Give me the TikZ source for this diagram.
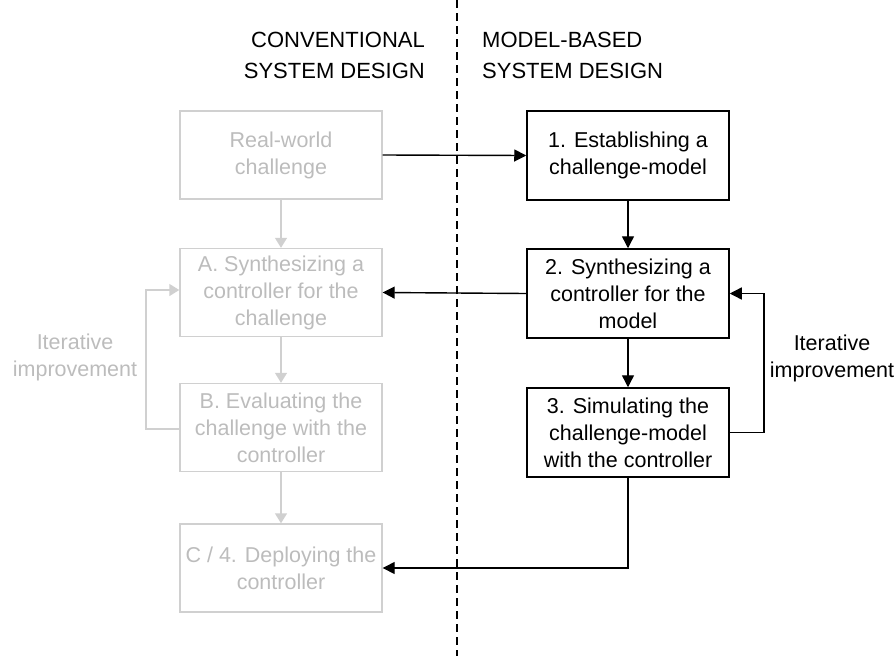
\documentclass[tikz,border=0pt]{standalone}
\usepackage{fontspec}
\setmainfont{Liberation Sans}
\usetikzlibrary{arrows.meta}
\definecolor{faintline}{RGB}{208,208,208}
\definecolor{fainttext}{RGB}{188,188,188}
\tikzset{
  boxtext/.style={font=\fontsize{21.5}{27}\selectfont, align=center},
  newbox/.style={boxtext, draw=black, line width=1.5pt, minimum width=202pt, minimum height=89pt, inner sep=0pt},
  oldbox/.style={boxtext, draw=faintline, text=fainttext, line width=1.4pt, minimum width=202pt, minimum height=88pt, inner sep=0pt},
  newarrow/.style={draw=black, line width=1.4pt, -{Triangle[length=12pt,width=12pt]}},
  oldarrow/.style={draw=faintline, line width=1.4pt, -{Triangle[length=10pt,width=12pt]}},
  header/.style={font=\fontsize{22}{31}\selectfont, inner sep=0pt},
  note/.style={font=\fontsize{21.5}{27}\selectfont, align=center, inner sep=0pt}
}
\begin{document}
\begin{tikzpicture}[x=1pt,y=-1pt]
\useasboundingbox (0,0) rectangle (895,656);

% divider between the two design approaches
\coordinate (divtop) at (457,0);
\coordinate (divbot) at (457,656);
\draw[line width=1.3pt, dash pattern=on 8pt off 5pt] (divtop) -- (divbot);

% column headings
\node[header, anchor=east, align=right] (hconv) at (425,55) {CONVENTIONAL\\SYSTEM DESIGN};
\node[header, anchor=west, align=left] (hmodel) at (482,55) {MODEL-BASED\\SYSTEM DESIGN};

% conventional flow (faded)
\node[oldbox] (L1) at (281,155) {Real-world\\challenge};
\node[oldbox] (LA) at (281,292.5) {A. Synthesizing a\\controller for the\\challenge};
\node[oldbox] (LB) at (281,427.5) {B. Evaluating the\\challenge with the\\controller};
\node[oldbox] (LC) at (281,568) {C / 4. Deploying the\\controller};

\draw[oldarrow] (L1) -- (LA);
\draw[oldarrow] (LA) -- (LB);
\draw[oldarrow] (LB) -- (LC);

\coordinate (lloopb) at (146,429);
\coordinate (lloopt) at (146,290);
\draw[oldarrow] (LB.west |- lloopb) -- (lloopb) -- (lloopt) -- (LA.west |- lloopt);
\node[note, text=fainttext] (lnote) at (75,357) {Iterative\\improvement};

% model-based flow
\node[newbox] (R1) at (628,155.5) {1. Establishing a\\challenge-model};
\node[newbox] (R2) at (628,293.5) {2. Synthesizing a\\controller for the\\model};
\node[newbox] (R3) at (628,432.5) {3. Simulating the\\challenge-model\\with the controller};

\draw[newarrow] (R1) -- (R2);
\draw[newarrow] (R2) -- (R3);

\coordinate (rloopb) at (764,432.5);
\coordinate (rloopt) at (764,293.5);
\draw[newarrow] (R3.east) -- (rloopb) -- (rloopt) -- (R2.east);
\node[note] (rnote) at (832,358) {Iterative\\improvement};

% links between the two flows
\draw[newarrow] (L1.east) -- (R1.west);
\draw[newarrow] (R2.west) -- (LA.east);
\coordinate (down) at (628,568);
\draw[newarrow] (R3.south) -- (down) -- (LC.east);
\end{tikzpicture}
\end{document}
